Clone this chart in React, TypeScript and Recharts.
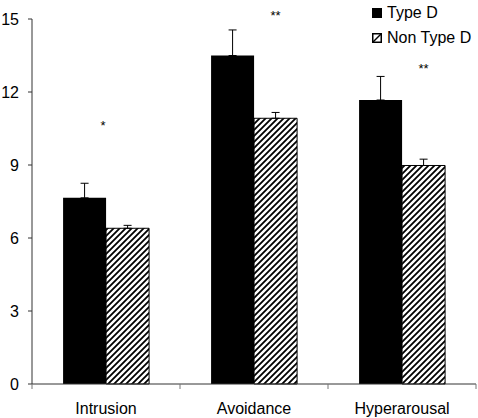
import React from "react";
import { BarChart, Bar, XAxis, YAxis, ErrorBar, LabelList } from "recharts";

const categories = ["Intrusion", "Avoidance", "Hyperarousal"];
const typeD = [7.65, 13.5, 11.67];
const typeDErr = [0.6, 1.05, 0.97];
const nonTypeD = [6.4, 10.92, 8.98];
const nonTypeDErr = [0.12, 0.24, 0.26];
const significance = ["*", "**", "**"];
const yTicks = [0, 3, 6, 9, 12, 15];
const seriesNames = ["Type D", "Non Type D"];

const data = categories.map((c, i) => ({
  name: c,
  typeD: typeD[i],
  typeDErr: [0, typeDErr[i]],
  nonTypeD: nonTypeD[i],
  nonTypeDErr: [0, nonTypeDErr[i]],
  sig: significance[i],
}));

const FONT = "'Liberation Sans', Arial, sans-serif";
const AXIS = "#333";

const CatTick = (props: any) => {
  const { x, y, payload, index, visibleTicksCount } = props;
  const off = payload && payload.offset ? payload.offset : 74;
  return (
    <g>
      <line x1={x - off} y1={y - 8} x2={x - off} y2={y - 3} stroke="#777" />
      {index === (visibleTicksCount ?? 3) - 1 && (
        <line x1={x + off} y1={y - 8} x2={x + off} y2={y - 3} stroke="#777" />
      )}
      <text x={x} y={y + 22} textAnchor="middle" fontSize={16} fontFamily={FONT} fill="#000">
        {payload.value}
      </text>
    </g>
  );
};

const SigLabel = (props: any) => {
  const { x, y, width, value, index } = props;
  const cx = index === 0 ? x - 3 : x + width / 2;
  const cy = y - (index === 2 ? 100 : 106);
  return (
    <text x={cx} y={cy + 8} textAnchor="middle" fontSize={13} fontFamily={FONT} fill="#000">
      {value}
    </text>
  );
};

const LegendBox = () => (
  <div
    style={{
      position: "absolute",
      left: 372,
      top: 0,
      fontFamily: FONT,
      fontSize: 16,
      color: "#000",
      lineHeight: "25px",
    }}
  >
    <div style={{ display: "flex", alignItems: "center" }}>
      <svg width={10} height={10} style={{ marginRight: 5 }}>
        <rect x={0} y={0} width={10} height={10} fill="#000" />
      </svg>
      <span>{seriesNames[0]}</span>
    </div>
    <div style={{ display: "flex", alignItems: "center" }}>
      <svg width={10} height={10} style={{ marginRight: 5 }}>
        <rect x={0.75} y={0.75} width={8.5} height={8.5} fill="#fff" stroke="#000" strokeWidth={1.5} />
        <line x1={1} y1={9} x2={9} y2={1} stroke="#000" strokeWidth={1.5} />
      </svg>
      <span>{seriesNames[1]}</span>
    </div>
  </div>
);

export default function App() {
  return (
    <div style={{ position: "absolute", left: 0, top: 0, width: 478, height: 418, background: "#fff" }}>
      <BarChart
        width={478}
        height={418}
        data={data}
        margin={{ top: 19, right: 2, bottom: 0, left: 0 }}
        barCategoryGap="21%"
        barGap={0}
      >
        <defs>
          <pattern id="hatch" patternUnits="userSpaceOnUse" width={6} height={6}>
            <rect width={6} height={6} fill="#fff" />
            <path d="M-1,1 l2,-2 M0,6 l6,-6 M5,7 l2,-2" stroke="#000" strokeWidth={1.8} />
          </pattern>
        </defs>
        <XAxis
          dataKey="name"
          height={34}
          axisLine={{ stroke: AXIS }}
          tickLine={false}
          tick={<CatTick />}
          interval={0}
        />
        <YAxis
          width={32}
          domain={[0, 15]}
          ticks={yTicks}
          axisLine={{ stroke: AXIS }}
          tickLine={{ stroke: AXIS }}
          tickSize={4}
          tick={{ fontSize: 16, fontFamily: FONT, fill: "#000" }}
          tickMargin={9}
        />
        <Bar dataKey="typeD" name={seriesNames[0]} fill="#000" isAnimationActive={false}>
          <ErrorBar dataKey="typeDErr" width={4} stroke="#000" strokeWidth={1} direction="y" />
        </Bar>
        <Bar dataKey="nonTypeD" name={seriesNames[1]} fill="url(#hatch)" stroke="#000" strokeWidth={1} isAnimationActive={false}>
          <ErrorBar dataKey="nonTypeDErr" width={4} stroke="#000" strokeWidth={1} direction="y" />
          <LabelList dataKey="sig" content={<SigLabel />} />
        </Bar>
      </BarChart>
      <LegendBox />
    </div>
  );
}
